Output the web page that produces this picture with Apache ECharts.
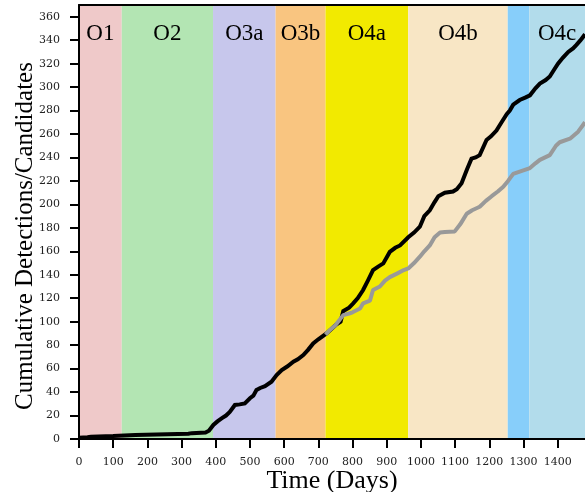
<!DOCTYPE html>
<html>
<head>
<meta charset="utf-8">
<script src="https://cdn.jsdelivr.net/npm/echarts@6/dist/echarts.min.js"></script>
<style>
  html, body { margin: 0; padding: 0; background: #fff; }
  #chart { width: 585px; height: 492px; }
</style>
</head>
<body>
<div id="chart"></div>
<script>
// observing runs (days since start)
const bandNames = ["O1", "O2", "O3a", "O3b", "O4a", "O4b", "", "O4c"]
const bandStarts = [0, 125, 392, 575, 721, 963, 1254, 1317]
const bandEnds = [125, 392, 575, 721, 963, 1254, 1317, 1480]

// cumulative detections (black)
const detDays = [0, 25, 35, 100, 105, 165, 170, 320, 330, 370, 380, 393, 405, 417, 430, 441, 456, 470, 485, 500,
  510, 519, 530, 544, 563, 578, 593, 610, 627, 640, 656, 670, 685, 700, 724, 750, 765, 773, 790, 802,
  815, 831, 845, 860, 875, 890, 909, 925, 939, 963, 980, 997, 1010, 1026, 1040, 1051, 1070, 1094, 1105, 1119,
  1135, 1148, 1160, 1172, 1192, 1205, 1221, 1236, 1251, 1260, 1270, 1289, 1305, 1319, 1335, 1348, 1365, 1377, 1390, 1401,
  1415, 1431, 1445, 1455, 1467, 1480]
const detCounts = [1, 1.5, 2, 2.5, 3, 3.5, 4, 4.5, 5, 5.5, 7, 12, 15, 17.6, 20, 23, 29, 29.5, 30.4, 34.7,
  37, 41.7, 43.5, 45, 48.8, 54.5, 58.8, 62, 65.9, 68, 71.6, 76, 81.5, 85, 90, 97, 100, 109, 112, 115.6,
  120, 127, 135, 144, 147, 149.7, 159.5, 163, 165, 172, 176, 181, 190, 195, 202, 207, 210, 211, 213, 218,
  230, 239, 240, 242, 255, 258, 263, 270, 277, 280, 285, 289, 291, 293, 299, 303, 306, 309, 315, 320,
  325, 330, 333, 336, 340, 345]

// cumulative candidates (grey)
const candDays = [721, 734, 750, 773, 790, 800, 822, 831, 851, 860, 880, 895, 909, 930, 950, 963, 980, 997, 1010, 1026,
  1040, 1056, 1070, 1099, 1115, 1134, 1150, 1172, 1190, 1207, 1225, 1241, 1255, 1270, 1289, 1319, 1335, 1348, 1377, 1395,
  1406, 1436, 1460, 1480]
const candCounts = [89, 93, 97, 105.6, 107, 108, 111.3, 115.6, 118, 127, 130, 135, 138, 141, 144, 145.4, 150, 155.4, 160, 165,
  172, 176, 176.5, 177, 183, 192, 195, 198, 203, 207, 211, 215, 220, 226, 228, 231, 235, 238, 242, 250,
  253, 256, 262, 270]

const xTicks = [0, 100, 200, 300, 400, 500, 600, 700, 800, 900, 1000, 1100, 1200, 1300, 1400]
const yTicks = [0, 20, 40, 60, 80, 100, 120, 140, 160, 180, 200, 220, 240, 260, 280, 300, 320, 340, 360]

// styles
const bandColors = ["#efc9c9", "#b3e5b3", "#c7c7ec", "#f9c580", "#f2ea00", "#f8e6c5", "#87cefa", "#b2dceb"]
const serif = "'Liberation Serif', 'DejaVu Serif', serif"
const tickFont = "'DejaVu Serif', serif"

const chart = echarts.init(document.getElementById("chart"))

const markAreaData = bandNames.map((name, i) => [
  { name: name, xAxis: bandStarts[i], itemStyle: { color: bandColors[i], opacity: 1 } },
  { xAxis: bandEnds[i] }
])

const option = {
  animation: false,
  grid: { left: 79, right: 0, top: 5, bottom: 53, outerBoundsMode: "none", containLabel: false },
  xAxis: [
    {
      type: "value",
      min: 0,
      max: 1480,
      z: 10,
      name: "Time (Days)",
      nameLocation: "middle",
      nameGap: 29,
      nameMoveOverlap: false,
      nameTextStyle: { fontFamily: serif, fontSize: 26, color: "#000" },
      axisLine: { show: true, lineStyle: { color: "#000", width: 2 } },
      axisTick: { show: true, length: 9, customValues: xTicks, lineStyle: { color: "#000", width: 2 } },
      axisLabel: {
        customValues: xTicks,
        margin: 18,
        fontFamily: tickFont,
        fontSize: 11,
        color: "#222",
        formatter: (v) => String(v)
      },
      splitLine: { show: false }
    },
    {
      type: "value",
      position: "top",
      min: 0,
      max: 1480,
      z: 10,
      axisLine: { show: true, lineStyle: { color: "#000", width: 2 } },
      axisTick: { show: false },
      axisLabel: { show: false },
      splitLine: { show: false }
    }
  ],
  yAxis: {
    type: "value",
    min: 0,
    max: 370,
    z: 10,
    name: "Cumulative Detections/Candidates",
    nameLocation: "middle",
    nameGap: 41,
    nameMoveOverlap: false,
    nameTextStyle: { fontFamily: serif, fontSize: 25, color: "#000", padding: [0, 28, 0, 0] },
    axisLine: { show: true, lineStyle: { color: "#000", width: 2 } },
    axisTick: { show: true, length: 9, customValues: yTicks, lineStyle: { color: "#000", width: 2 } },
    axisLabel: {
      customValues: yTicks,
      margin: 19,
      fontFamily: tickFont,
      fontSize: 11,
      color: "#222",
      formatter: (v) => String(v)
    },
    splitLine: { show: false }
  },
  series: [
    {
      name: "bands",
      type: "line",
      z: 1,
      data: [],
      silent: true,
      markArea: {
        silent: true,
        label: {
          show: true,
          position: "insideTop",
          distance: 17,
          fontFamily: serif,
          fontSize: 23,
          color: "#000"
        },
        data: markAreaData
      }
    },
    {
      name: "Detections",
      type: "line",
      z: 3,
      showSymbol: false,
      data: detDays.map((d, i) => [d, detCounts[i]]),
      lineStyle: { color: "#000", width: 4, join: "miter" }
    },
    {
      name: "Candidates",
      type: "line",
      z: 4,
      showSymbol: false,
      data: candDays.map((d, i) => [d, candCounts[i]]),
      lineStyle: { color: "#999", width: 4 }
    }
  ]
}

chart.setOption(option)
</script>
</body>
</html>
